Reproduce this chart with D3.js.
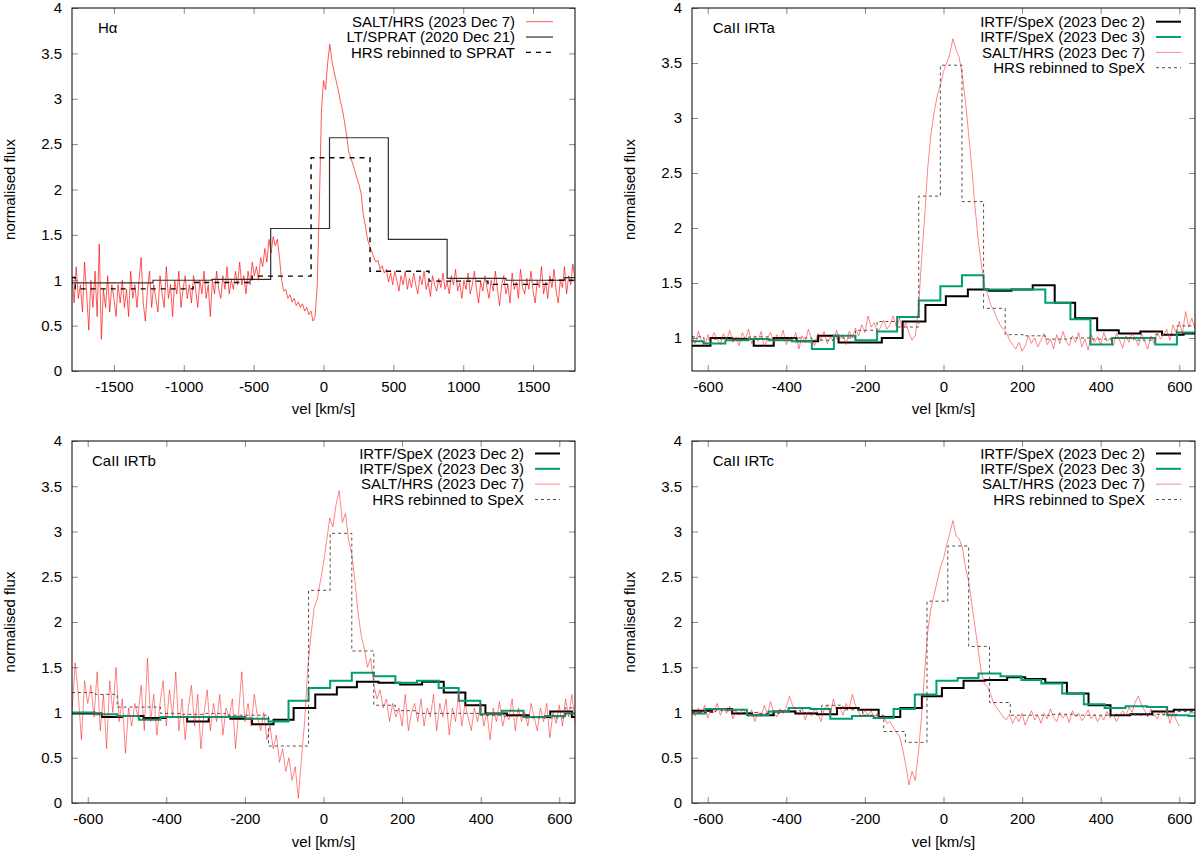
<!DOCTYPE html>
<html lang="en">
<head>
<meta charset="UTF-8">
<title>Line profiles: Halpha and CaII IRT</title>
<style>
  html, body { margin: 0; padding: 0; background: #fff; }
  svg { display: block; font-family: "Liberation Sans", Arial, sans-serif; }
</style>
</head>
<body>
<svg id="chart" width="1200" height="853"></svg>
<script src="https://d3js.org/d3.v7.min.js"></script>
<script>
// ---------- data ----------
// SALT/HRS spectra, sampled on a regular velocity grid (start, step in km/s)
const haStart = -1800, haStep = 15;
const hrsHa = [1.05,0.75,1.15,0.8,0.95,0.65,1.2,0.85,0.45,1.0,0.7,1.1,0.6,1.4,0.35,0.9,0.7,1.05,0.65,0.95,0.8,
  0.6,0.95,0.75,1.0,0.7,0.9,0.6,1.1,0.8,0.95,0.7,1.0,1.25,0.75,0.55,0.9,1.1,0.7,0.95,0.8,
  0.65,1.05,0.85,0.7,1.15,0.8,0.95,0.6,1.0,0.85,1.1,0.7,0.9,1.05,0.8,0.95,0.75,1.05,0.9,0.7,
  1.0,0.85,1.1,0.8,0.95,0.6,1.0,0.85,1.1,0.9,0.8,1.05,0.9,1.15,0.85,1.0,0.9,1.1,0.95,1.2,
  0.95,1.05,0.85,1.1,0.95,1.2,1.05,1.15,1.0,1.25,1.15,1.35,1.2,1.45,1.3,1.48,1.38,1.45,1.25,1.0,
  0.88,0.9,0.8,0.84,0.76,0.8,0.72,0.76,0.7,0.74,0.66,0.7,0.62,0.66,0.55,0.6,0.95,1.8,2.85,3.2,
  3.1,3.4,3.6,3.42,3.3,3.2,3.1,2.98,2.88,2.75,2.6,2.42,2.35,2.28,2.2,2.12,2.05,1.95,1.72,1.6,
  1.45,1.38,1.32,1.25,1.2,1.22,1.12,1.16,1.08,1.12,0.98,1.08,0.95,1.1,1.0,0.88,1.05,0.95,1.1,0.9,
  1.02,0.92,1.08,0.95,0.85,1.05,0.95,1.1,0.9,0.98,0.82,1.05,0.95,0.88,1.02,0.92,1.08,0.9,0.98,0.85,
  1.05,0.95,1.12,0.88,0.97,0.8,1.0,0.9,1.08,0.85,0.95,1.1,0.9,0.75,0.98,0.88,1.05,0.92,0.8,1.0,
  0.88,1.1,0.9,0.72,0.95,1.05,0.85,0.95,0.75,1.08,0.9,0.98,0.8,1.12,0.92,0.85,1.02,0.9,1.1,0.88,
  0.75,1.0,0.92,1.15,0.85,0.98,0.8,1.05,0.92,1.12,0.88,0.75,1.0,0.92,1.15,0.85,1.05,0.95,1.18,1.0];

const irtStart = -640, irtStep = 8;
const hrsIRTa = [1.02,0.95,1.06,0.98,0.92,1.03,0.97,1.05,0.99,0.94,
  1.04,0.98,1.07,0.96,1.01,0.93,1.05,0.99,1.08,0.95,
  1.02,0.97,1.06,0.92,1.0,1.05,0.96,1.03,0.98,1.07,
  0.94,1.01,0.97,1.05,0.9,1.02,0.96,1.08,0.99,0.93,
  1.04,0.98,1.06,0.95,1.01,0.97,1.07,0.99,1.03,0.94,
  1.06,1.0,1.09,1.02,1.12,1.05,1.2,1.1,1.14,1.05,
  1.1,1.16,1.08,1.12,1.2,1.1,1.18,1.08,1.14,1.05,
  0.98,1.02,1.25,1.7,2.1,2.55,2.85,3.05,3.2,3.3,
  3.42,3.5,3.58,3.72,3.62,3.55,3.38,3.15,2.85,2.55,
  2.2,1.9,1.68,1.48,1.4,1.3,1.25,1.18,1.12,1.08,
  1.05,0.98,0.94,0.9,0.96,0.88,0.93,1.02,0.95,1.0,
  0.92,0.98,1.04,0.94,0.99,0.9,1.03,0.95,1.06,0.97,
  0.93,1.02,0.96,1.05,0.92,0.99,0.89,1.03,0.96,1.01,
  0.94,1.05,0.97,1.0,0.93,1.04,0.98,0.91,1.02,0.96,
  1.05,0.99,0.93,1.04,0.97,0.9,1.02,0.95,1.06,0.99,
  1.03,1.08,0.98,1.12,1.05,1.15,1.04,1.24,1.1,1.18,1.08];

const hrsIRTb = [1.0,1.55,1.2,0.7,1.35,1.1,1.3,0.95,1.45,0.8,
  1.2,0.6,1.35,1.0,1.5,0.9,1.15,0.55,1.05,0.85,
  1.1,0.95,1.3,0.8,1.6,0.9,1.2,0.75,1.1,1.35,
  0.85,1.25,0.95,1.45,0.8,1.15,0.7,1.05,1.3,0.85,
  1.2,0.6,1.0,1.25,0.8,1.1,0.9,1.2,0.75,1.05,
  0.95,1.15,0.6,1.0,1.45,0.9,1.1,0.85,1.2,0.95,
  0.8,1.0,0.7,0.85,0.6,0.75,0.45,0.6,0.35,0.5,
  0.25,0.4,0.05,0.5,0.9,1.5,1.85,2.15,2.25,2.45,
  2.65,2.9,3.15,3.05,3.3,3.45,3.1,3.2,2.9,2.75,
  2.45,2.1,1.85,1.7,1.5,1.6,1.3,1.15,1.25,1.05,
  1.15,0.9,1.1,0.95,1.05,0.85,1.2,0.8,1.0,1.1,
  0.9,1.15,0.85,1.05,0.95,1.2,0.8,1.1,0.95,1.15,
  0.75,1.05,0.9,1.2,0.85,1.1,0.95,0.8,1.05,0.9,
  1.1,0.85,1.0,0.7,1.05,0.9,1.12,0.85,1.0,0.92,
  1.15,0.8,1.05,0.9,1.0,0.85,1.1,0.95,0.8,1.05,
  0.9,1.1,0.72,1.0,0.88,1.08,0.85,1.15,0.95,1.2,0.9];

const hrsIRTc = [1.02,0.96,1.05,0.98,1.08,0.94,1.03,1.0,1.1,0.97,
  1.05,0.99,1.07,0.93,1.02,0.97,1.04,1.0,0.95,1.03,
  0.9,1.01,0.96,1.08,0.98,1.12,1.0,0.95,1.04,0.99,
  1.06,1.18,1.08,1.02,0.97,1.05,0.92,1.01,0.96,1.04,
  1.0,0.9,1.03,1.08,0.98,1.15,1.02,1.06,0.97,1.1,
  1.04,1.2,1.08,1.0,0.95,1.03,0.97,1.02,0.94,0.99,
  0.93,0.96,0.88,0.9,0.84,0.78,0.74,0.6,0.42,0.2,
  0.35,0.25,0.55,0.95,1.45,1.9,2.15,2.3,2.45,2.6,
  2.7,2.85,2.98,3.12,2.95,2.92,2.82,2.6,2.45,2.2,
  1.95,1.7,1.45,1.32,1.28,1.2,1.1,1.05,1.0,0.95,
  0.92,0.98,0.88,0.96,0.9,0.99,0.86,0.95,1.02,0.92,
  0.97,0.88,0.99,0.93,1.04,0.95,0.9,1.0,0.94,0.98,
  0.89,1.02,0.95,0.99,0.91,0.96,1.03,0.93,0.98,0.9,
  0.97,0.92,1.01,0.94,0.98,0.9,0.97,1.02,0.96,1.06,
  1.0,1.12,1.18,1.08,1.02,0.95,1.04,0.98,0.93,1.02,
  0.96,1.05,0.88,1.0,0.92,0.85];

// binned spectra: bin edges (km/s) and flux per bin
const spratEdges = [-1800,-1220,-799,-378,43,464,885,1306,1727,1800];
const spratFlux  = [0.97,1.0,1.01,1.57,2.57,1.45,1.02,1.0,1.03];
const rebinHaEdges = [-1800,-1777,-1355,-933,-511,-89,333,755,1177,1599,1800];
const rebinHaFlux  = [1.03,0.905,0.905,0.975,1.045,2.35,1.10,0.99,0.955,1.0];

const irtaDec2Edges = [-640,-593,-538,-483,-432,-374,-319,-267,-212,-157,-104,-46,6,62,115,173,227,283,335,391,446,501,556,611,640];
const irtaDec2Flux  = [0.93,1.0,0.99,0.93,1.0,0.97,1.02,0.96,0.96,1.0,1.15,1.30,1.38,1.44,1.43,1.44,1.48,1.32,1.18,1.07,1.04,1.06,1.03,1.04];
const irtaDec3Edges = [-640,-610,-555,-496,-445,-386,-335,-279,-224,-169,-118,-63,-8,47,102,157,208,259,323,374,429,484,539,594,640];
const irtaDec3Flux  = [0.97,0.95,0.98,0.99,0.98,0.97,0.90,1.02,0.98,1.06,1.19,1.34,1.47,1.57,1.44,1.44,1.44,1.32,1.17,0.94,1.0,1.0,0.94,1.05];
const irtaRebinFlux = [1.01,0.99,1.0,1.01,0.99,1.0,0.98,1.0,1.07,1.15,1.10,2.29,3.48,2.24,1.27,1.03,1.02,0.99,1.0,0.99,1.0,0.98,1.03,1.11];

const irtbDec2Edges = [-640,-564,-513,-458,-402,-347,-292,-237,-182,-127,-76,-21,34,85,140,195,251,306,361,412,467,522,577,632,640];
const irtbDec2Flux  = [0.99,0.95,0.96,0.94,0.95,0.90,0.95,0.93,0.87,0.92,1.05,1.20,1.28,1.34,1.33,1.31,1.34,1.22,1.08,0.99,0.97,0.95,1.01,0.95];
const irtbDec3Edges = [-640,-581,-525,-470,-415,-360,-305,-250,-199,-140,-89,-38,17,72,128,183,238,293,344,399,454,509,564,615,640];
const irtbDec3Flux  = [1.0,0.98,0.96,0.92,0.95,0.95,0.95,0.95,0.93,0.90,1.13,1.27,1.35,1.44,1.40,1.33,1.35,1.27,1.13,0.98,1.02,0.95,0.96,0.99];
const irtbRebinFlux = [1.22,1.2,1.06,1.06,0.99,0.98,0.99,0.97,0.97,0.63,0.63,2.35,2.98,1.68,1.08,1.02,0.99,0.99,0.99,0.97,0.96,0.94,0.94,1.05];

const irtcDec2Edges = [-640,-589,-538,-487,-432,-377,-322,-271,-216,-165,-110,-55,-4,51,106,162,208,259,314,369,425,475,531,586,640];
const irtcDec2Flux  = [1.02,1.04,0.99,0.97,1.01,0.99,0.98,1.05,1.03,0.95,1.05,1.18,1.27,1.35,1.36,1.39,1.37,1.33,1.21,1.08,0.97,0.98,1.01,1.03];
const irtcDec3Edges = [-640,-606,-555,-500,-445,-394,-339,-288,-233,-178,-127,-73,-18,36,89,145,198,249,302,357,410,463,518,569,624,640];
const irtcDec3Flux  = [0.99,1.04,1.03,0.97,1.01,1.05,1.04,0.93,0.96,0.94,1.04,1.20,1.35,1.38,1.43,1.40,1.36,1.32,1.21,1.09,1.05,1.07,1.06,0.97,0.96];
const irtcRebinEdges = [-640,-580,-526,-472,-418,-364,-310,-256,-206,-152,-97,-42,11,64,117,170,223,276,329,382,435,488,541,594,640];
const irtcRebinFlux  = [1.0,1.02,1.0,0.99,1.02,1.0,1.08,1.03,0.97,0.79,0.67,2.23,2.84,1.73,1.11,0.97,0.97,0.98,0.97,0.97,0.98,0.97,0.98,1.01];

// axes
const haTicksX = [-1500,-1000,-500,0,500,1000,1500];
const irtTicksX = [-600,-400,-200,0,200,400,600];
const fluxTicks = [0,0.5,1,1.5,2,2.5,3,3.5,4];
const fluxTicksIRTa = [1,1.5,2,2.5,3,3.5,4];

const labelsHa = ['SALT/HRS (2023 Dec 7)', 'LT/SPRAT (2020 Dec 21)', 'HRS rebinned to SPRAT'];
const labelsIRT = ['IRTF/SpeX (2023 Dec 2)', 'IRTF/SpeX (2023 Dec 3)', 'SALT/HRS (2023 Dec 7)', 'HRS rebinned to SpeX'];

// ---------- helpers ----------
function steps(edges, flux) {
  const pts = flux.map((v, i) => [edges[i], v]);
  pts.push([edges[edges.length - 1], flux[flux.length - 1]]);
  return pts;
}
function spectrum(start, step, flux) {
  return flux.map((v, i) => [start + i * step, v]);
}

const styles = {
  hrsHa:      { stroke: '#ff0000', width: 0.9, opacity: 0.72 },
  hrs:        { stroke: '#ff0000', width: 0.8, opacity: 0.6 },
  sprat:      { stroke: '#303030', width: 1.2, step: true },
  rebinSprat: { stroke: '#000', width: 1.4, dash: '5,5', step: true },
  dec2:       { stroke: '#000', width: 2, step: true },
  dec3:       { stroke: '#009e73', width: 2, step: true },
  rebinSpex:  { stroke: '#505050', width: 1, dash: '3,3', step: true }
};

const panels = [
  { box: [72, 575, 8, 371], xDom: [-1800, 1800], xTicks: haTicksX, yDom: [0, 4], yTicks: fluxTicks,
    title: 'H\u03b1', titleX: 98, legRight: 515, sample: [526, 553], legY: 21.7, labels: labelsHa,
    yLabelX: 15.4, xLabelY: 414,
    series: [
      { st: 'hrsHa', pts: spectrum(haStart, haStep, hrsHa) },
      { st: 'sprat', pts: steps(spratEdges, spratFlux) },
      { st: 'rebinSprat', pts: steps(rebinHaEdges, rebinHaFlux) }
    ] },
  { box: [692, 1195, 8, 371], xDom: [-640, 640], xTicks: irtTicksX, yDom: [0.7, 4], yTicks: fluxTicksIRTa,
    title: 'CaII IRTa', titleX: 712.7, legRight: 1145, sample: [1156, 1181], legY: 21.7, labels: labelsIRT,
    yLabelX: 635.4, xLabelY: 414,
    series: [
      { st: 'dec2', pts: steps(irtaDec2Edges, irtaDec2Flux) },
      { st: 'dec3', pts: steps(irtaDec3Edges, irtaDec3Flux) },
      { st: 'hrs', pts: spectrum(irtStart, irtStep, hrsIRTa) },
      { st: 'rebinSpex', pts: steps(irtaDec3Edges, irtaRebinFlux) }
    ] },
  { box: [72, 575, 441, 803], xDom: [-640, 640], xTicks: irtTicksX, yDom: [0, 4], yTicks: fluxTicks,
    title: 'CaII IRTb', titleX: 92, legRight: 524, sample: [535, 560], legY: 453.5, labels: labelsIRT,
    yLabelX: 15.4, xLabelY: 847,
    series: [
      { st: 'dec2', pts: steps(irtbDec2Edges, irtbDec2Flux) },
      { st: 'dec3', pts: steps(irtbDec3Edges, irtbDec3Flux) },
      { st: 'hrs', pts: spectrum(irtStart, irtStep, hrsIRTb) },
      { st: 'rebinSpex', pts: steps(irtbDec3Edges, irtbRebinFlux) }
    ] },
  { box: [692, 1195, 441, 803], xDom: [-640, 640], xTicks: irtTicksX, yDom: [0, 4], yTicks: fluxTicks,
    title: 'CaII IRTc', titleX: 712.7, legRight: 1145, sample: [1156, 1181], legY: 453.5, labels: labelsIRT,
    yLabelX: 635.4, xLabelY: 847,
    series: [
      { st: 'dec2', pts: steps(irtcDec2Edges, irtcDec2Flux) },
      { st: 'dec3', pts: steps(irtcDec3Edges, irtcDec3Flux) },
      { st: 'hrs', pts: spectrum(irtStart, irtStep, hrsIRTc) },
      { st: 'rebinSpex', pts: steps(irtcRebinEdges, irtcRebinFlux) }
    ] }
];

// ---------- drawing ----------
const svg = d3.select('#chart');
svg.append('rect').attr('width', 1200).attr('height', 853).attr('fill', '#fff');

function applyStyle(sel, s) {
  sel.attr('fill', 'none')
    .attr('stroke', s.stroke)
    .attr('stroke-width', s.width)
    .attr('stroke-opacity', s.opacity || 1)
    .attr('stroke-dasharray', s.dash || null);
}

function styleAxis(g) {
  g.select('.domain').remove();
  g.selectAll('.tick line').attr('stroke', '#8a8a8a');
  g.selectAll('.tick text').attr('fill', '#000');
  g.attr('font-size', 15).attr('font-family', '"Liberation Sans", Arial, sans-serif');
}

panels.forEach((p, pi) => {
  const [x0, x1, y0, y1] = p.box;
  const x = d3.scaleLinear().domain(p.xDom).range([x0, x1]);
  const y = d3.scaleLinear().domain(p.yDom).range([y1, y0]);
  const fmt = d => String(d);

  svg.append('defs').append('clipPath').attr('id', 'clip' + pi)
    .append('rect').attr('x', x0).attr('y', y0).attr('width', x1 - x0).attr('height', y1 - y0);

  svg.append('g').attr('transform', `translate(0,${y1})`)
    .call(d3.axisBottom(x).tickValues(p.xTicks).tickSize(-6).tickPadding(10).tickFormat(fmt))
    .call(styleAxis);
  svg.append('g').attr('transform', `translate(0,${y0})`)
    .call(d3.axisTop(x).tickValues(p.xTicks).tickSize(-6).tickFormat(''))
    .call(styleAxis);
  svg.append('g').attr('transform', `translate(${x0},0)`)
    .call(d3.axisLeft(y).tickValues(p.yTicks).tickSize(-6).tickPadding(10).tickFormat(fmt))
    .call(styleAxis);
  svg.append('g').attr('transform', `translate(${x1},0)`)
    .call(d3.axisRight(y).tickValues(p.yTicks).tickSize(-6).tickFormat(''))
    .call(styleAxis);

  const plot = svg.append('g').attr('clip-path', `url(#clip${pi})`);
  p.series.forEach(s => {
    const st = styles[s.st];
    const line = d3.line().x(d => x(d[0])).y(d => y(d[1]));
    if (st.step) line.curve(d3.curveStepAfter);
    plot.append('path').attr('d', line(s.pts)).call(applyStyle, st);
  });

  // legend
  const leg = svg.append('g');
  p.series.forEach((s, i) => {
    const cy = p.legY + i * 15.33;
    leg.append('text')
      .attr('x', p.legRight).attr('y', cy + 5.3)
      .attr('text-anchor', 'end').attr('font-size', 15).attr('fill', '#000')
      .text(p.labels[i]);
    leg.append('line')
      .attr('x1', p.sample[0]).attr('x2', p.sample[1])
      .attr('y1', cy).attr('y2', cy)
      .call(applyStyle, styles[s.st]);
  });

  svg.append('text').attr('x', p.titleX).attr('y', y0 + 25)
    .attr('font-size', 15).attr('fill', '#000').text(p.title);

  svg.append('text').attr('x', (x0 + x1) / 2).attr('y', p.xLabelY)
    .attr('text-anchor', 'middle').attr('font-size', 15).attr('fill', '#000')
    .text('vel [km/s]');

  svg.append('text')
    .attr('transform', `translate(${p.yLabelX},${(y0 + y1) / 2}) rotate(-90)`)
    .attr('text-anchor', 'middle').attr('font-size', 15).attr('fill', '#000')
    .text('normalised flux');

  svg.append('rect')
    .attr('x', x0).attr('y', y0).attr('width', x1 - x0).attr('height', y1 - y0)
    .attr('fill', 'none').attr('stroke', '#000').attr('stroke-width', 1);
});
</script>
</body>
</html>
